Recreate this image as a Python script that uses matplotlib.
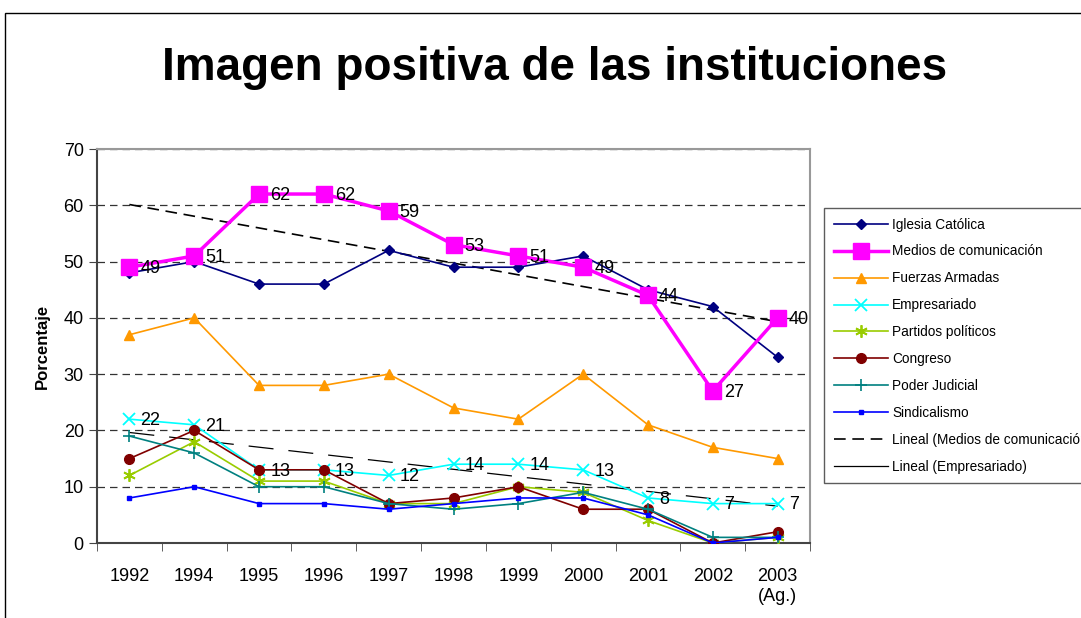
import matplotlib
matplotlib.use("Agg")
import matplotlib.pyplot as plt
import numpy as np
from matplotlib.patches import Rectangle
from matplotlib.lines import Line2D

plt.rcParams['font.family'] = ['Liberation Sans', 'DejaVu Sans']

years = ["1992", "1994", "1995", "1996", "1997", "1998", "1999", "2000", "2001", "2002", "2003\n(Ag.)"]
iglesia = [48, 50, 46, 46, 52, 49, 49, 51, 45, 42, 33]
medios = [49, 51, 62, 62, 59, 53, 51, 49, 44, 27, 40]
fuerzas = [37, 40, 28, 28, 30, 24, 22, 30, 21, 17, 15]
empresariado = [22, 21, 13, 13, 12, 14, 14, 13, 8, 7, 7]
partidos = [12, 18, 11, 11, 7, 7, 10, 9, 4, 0, 1]
congreso = [15, 20, 13, 13, 7, 8, 10, 6, 6, 0, 2]
judicial = [19, 16, 10, 10, 7, 6, 7, 9, 6, 1, 1]
sindicalismo = [8, 10, 7, 7, 6, 7, 8, 8, 5, 0, 1]

W, H = 1081, 618
fig = plt.figure(figsize=(W / 100, H / 100), dpi=100)
fig.patch.set_facecolor('white')

# outer chart frame (cropped)
fig.patches.append(Rectangle((5 / W, -0.1), 1.2, 1 - 13 / H + 0.1, transform=fig.transFigure,
                             fill=False, edgecolor='black', linewidth=1.0))

ax = fig.add_axes([97 / W, 1 - 543 / H, (810 - 97) / W, (543 - 149) / H])
x = np.arange(len(years))

ax.set_xlim(-0.5, len(years) - 0.5)
ax.set_ylim(0, 70)
ax.set_yticks(range(0, 71, 10))
for yv in range(10, 71, 10):
    ax.axhline(yv, color='#333333', linewidth=0.9, linestyle=(0, (6, 4)), zorder=0)

series = [
    ("Iglesia Católica", iglesia, '#000080', 'D', 5, 1.2, dict()),
    ("Medios de comunicación", medios, '#FF00FF', 's', 11, 2.5, dict()),
    ("Fuerzas Armadas", fuerzas, '#FF9900', '^', 7, 1.2, dict()),
    ("Empresariado", empresariado, '#00FFFF', 'x', 8, 1.2, dict(markeredgewidth=1.3)),
    ("Partidos políticos", partidos, '#99CC00', (6, 2, 0), 9, 1.2, dict(markeredgewidth=1.3)),
    ("Congreso", congreso, '#800000', 'o', 7, 1.2, dict()),
    ("Poder Judicial", judicial, '#008080', '+', 9, 1.2, dict(markeredgewidth=1.2)),
    ("Sindicalismo", sindicalismo, '#0000FF', 's', 3, 1.2, dict()),
]
handles = []
for name, vals, col, mk, ms, lw, kw in series:
    h, = ax.plot(x, vals, color=col, marker=mk, markersize=ms, linewidth=lw,
                 markerfacecolor=col, markeredgecolor=col, label=name, zorder=3, **kw)
    handles.append(h)

# linear trend lines
cm = np.polyfit(x + 1, medios, 1)
h1, = ax.plot(x, np.polyval(cm, x + 1), color='black', linewidth=1.2,
              linestyle=(0, (7, 4)), label="Lineal (Medios de comunicación)", zorder=2)
ce = np.polyfit(x + 1, empresariado, 1)
ax.plot(x, np.polyval(ce, x + 1), color='black', linewidth=0.9,
        linestyle=(0, (20, 12)), zorder=2)
h2 = Line2D([], [], color='black', linewidth=0.9, label="Lineal (Empresariado)")
handles += [h1, h2]

# data labels
for xi, v in zip(x, medios):
    ax.annotate(str(v), (xi, v), xytext=(8, -1), textcoords='offset points',
                ha='left', va='center', fontsize=13, zorder=5)
for xi, v in zip(x, empresariado):
    ax.annotate(str(v), (xi, v), xytext=(8, -1), textcoords='offset points',
                ha='left', va='center', fontsize=13, zorder=5)

ax.set_xticks(x)
ax.set_xticklabels(years, fontsize=13)
ax.set_xticks(np.arange(-0.5, len(years), 1), minor=True)
ax.tick_params(axis='x', which='major', length=0, pad=18)
ax.tick_params(axis='x', which='minor', length=6, direction='out', color='#444444')
ax.tick_params(axis='y', labelsize=13, length=6, direction='out', color='#444444')

for s in ['left', 'bottom']:
    ax.spines[s].set_color('#444444')
    ax.spines[s].set_linewidth(1.5)
for s in ['right', 'top']:
    ax.spines[s].set_color('#999999')
    ax.spines[s].set_linewidth(1.5)

ax.set_ylabel("Porcentaje", fontsize=12, fontweight='bold', labelpad=10)

fig.text(555 / W, 1 - 68 / H, "Imagen positiva de las instituciones", ha='center', va='center',
         fontsize=33, fontweight='bold')

leg = fig.legend(handles=handles, loc='upper left', bbox_to_anchor=(824 / W, 1 - 208 / H),
                 fontsize=9.8, frameon=True, fancybox=False, edgecolor='#333333',
                 handlelength=4.0, labelspacing=0.95, borderpad=0.7, handletextpad=0.3,
                 borderaxespad=0)
leg.get_frame().set_linewidth(1.0)

fig.savefig("out.png", dpi=100)
